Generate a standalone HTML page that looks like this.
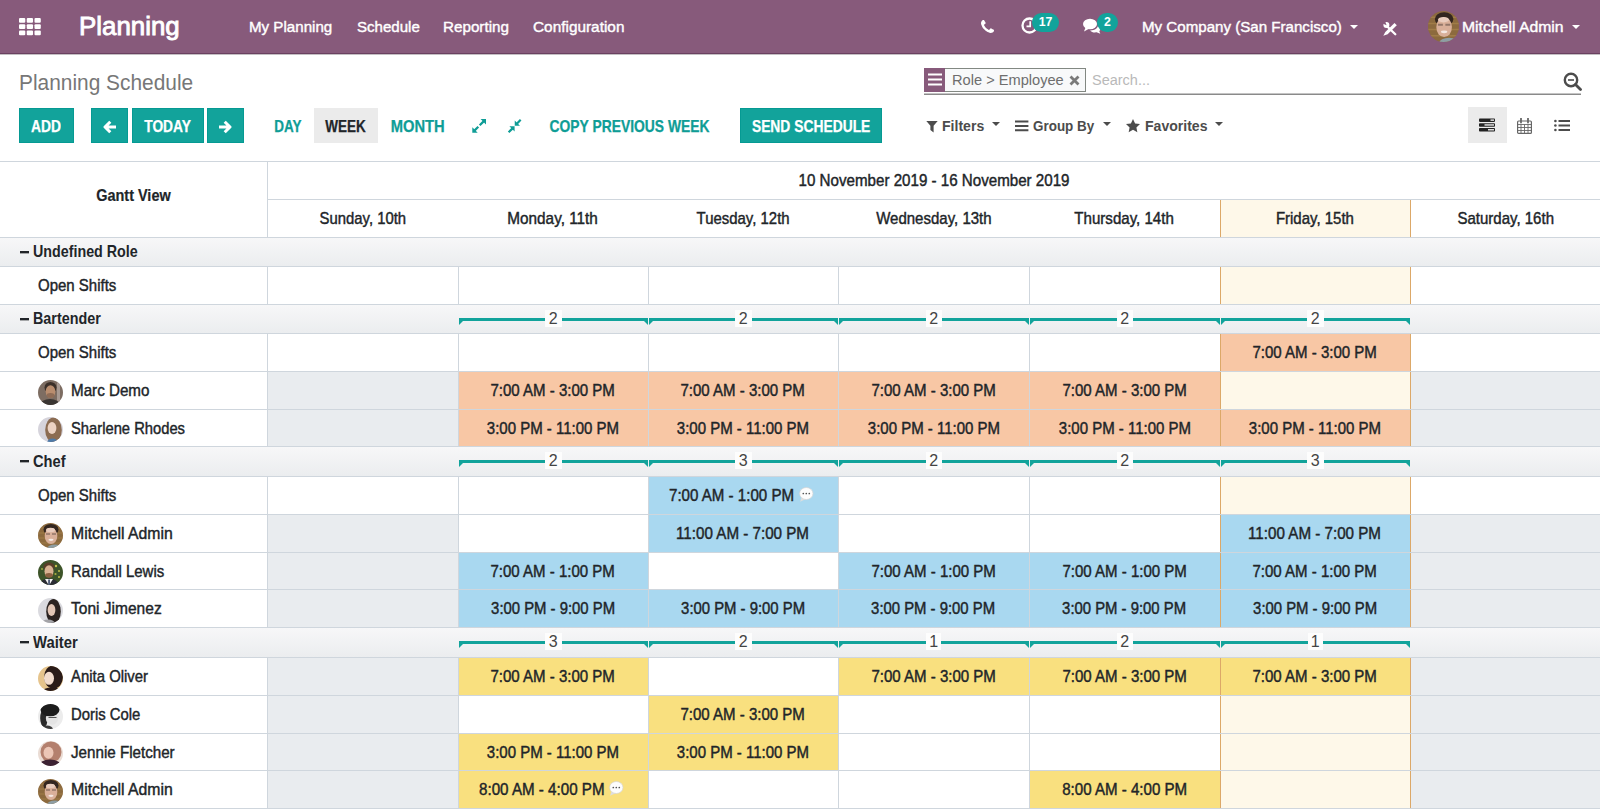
<!DOCTYPE html>
<html lang="en"><head><meta charset="utf-8"><title>Planning Schedule</title>
<style>
*{box-sizing:border-box;margin:0;padding:0}
html,body{width:1600px;height:809px;overflow:hidden;background:#fff}
body{font-family:"Liberation Sans", sans-serif;font-size:16.1px;color:#212529;position:relative}
.abs{position:absolute}
.sx{display:inline-block;white-space:nowrap}
.nav{position:absolute;left:0;top:0;width:1600px;height:54px;background:#875a7b;border-bottom:1px solid #6a4160}
.nav .t{position:absolute;color:#fff;white-space:nowrap;font-size:15.2px;line-height:53px;top:0;-webkit-text-stroke:0.4px #fff}
.brand{position:absolute;left:79px;top:0;line-height:53px;font-size:26.4px;color:#fff;-webkit-text-stroke:0.9px #fff;white-space:nowrap}
.badge{position:absolute;background:#12a39b;color:#fff;font-weight:bold;font-size:12.3px;line-height:19px;height:19px;border-radius:9.5px;text-align:center;top:13px}
.title{position:absolute;left:19px;top:68px;font-size:21.8px;line-height:30px;color:#777;white-space:nowrap}
.btn{position:absolute;top:108px;height:35px;line-height:37px;-webkit-text-stroke:0.25px;text-align:center;font-size:15.7px;font-weight:bold;white-space:nowrap;text-transform:uppercase}
.btn.p{background:#12a39b;color:#fff;box-shadow:inset 0 0 0 1px #059a93}
.btn.l{color:#0f9d96}
.btn.a{background:#ebebeb;color:#212529}
.flt{position:absolute;top:112px;line-height:28px;font-size:15.5px;font-weight:bold;color:#4c4c4c;white-space:nowrap}
.caret{position:absolute;width:0;height:0;border-left:4.5px solid transparent;border-right:4.5px solid transparent;border-top:4.8px solid #4c4c4c}
.hl{position:absolute;left:0;width:1600px;height:1px;background:#cfd6dd}
.vl{position:absolute;width:1px;background:#cfd6dd}
.grp{position:absolute;left:0;width:1600px;background:linear-gradient(#f7f7f8,#ebedef);border-top:1px solid #cfd6dd;border-bottom:1px solid #cfd6dd}
.grp .gl{position:absolute;left:19px;top:0;font-weight:bold;white-space:nowrap}
.rl{position:absolute;white-space:nowrap;-webkit-text-stroke:0.42px #212529}
.pill{position:absolute;text-align:center;white-space:nowrap;color:#212529;-webkit-text-stroke:0.42px #212529}
.hd{position:absolute;text-align:center;white-space:nowrap;color:#212529;-webkit-text-stroke:0.42px #212529}
.gray{position:absolute;background:#e9ecef}
.today{position:absolute;background:#fef8e9}
.cnt{position:absolute;height:2.6px;background:#12a39b}
.num{position:absolute;background:#fdfdfd;text-align:center;font-size:16px;color:#444;width:17px;height:17px;line-height:18px}
.tri{position:absolute;width:0;height:0}
.av{position:absolute;border-radius:50%;overflow:hidden}
</style></head>
<body>
<div class="nav">
<svg class="abs" style="left:18.900px;top:17.600px" width="23" height="18" viewBox="0 0 23 18"><rect x="0.00" y="0.00" width="6.300" height="4.750" rx="1.100" fill="#fff"/><rect x="7.75" y="0.00" width="6.300" height="4.750" rx="1.100" fill="#fff"/><rect x="15.50" y="0.00" width="6.300" height="4.750" rx="1.100" fill="#fff"/><rect x="0.00" y="6.25" width="6.300" height="4.750" rx="1.100" fill="#fff"/><rect x="7.75" y="6.25" width="6.300" height="4.750" rx="1.100" fill="#fff"/><rect x="15.50" y="6.25" width="6.300" height="4.750" rx="1.100" fill="#fff"/><rect x="0.00" y="12.50" width="6.300" height="4.750" rx="1.100" fill="#fff"/><rect x="7.75" y="12.50" width="6.300" height="4.750" rx="1.100" fill="#fff"/><rect x="15.50" y="12.50" width="6.300" height="4.750" rx="1.100" fill="#fff"/></svg>
<div class="brand"><span class="sx" style="transform:scaleX(0.9805);transform-origin:left center">Planning</span></div>
<div class="t" style="left:249px"><span class="sx" style="transform:scaleX(0.9959);transform-origin:left center">My Planning</span></div>
<div class="t" style="left:356.5px"><span class="sx" style="transform:scaleX(0.9924);transform-origin:left center">Schedule</span></div>
<div class="t" style="left:443px"><span class="sx" style="transform:scaleX(1.0014);transform-origin:left center">Reporting</span></div>
<div class="t" style="left:533px"><span class="sx" style="transform:scaleX(1.0120);transform-origin:left center">Configuration</span></div>
<svg class="abs" style="left:981px;top:20px" width="13" height="13" viewBox="0 0 1408 1408"><path fill="#fff" d="M1408 1112q0 27-10 70.500t-21 68.500q-21 50-122 106-94 51-186 51-27 0-53-3.500t-57.500-12.500-47-14.500-55.500-20.500-49-18q-98-35-175-83-127-79-264-216t-216-264q-48-77-83-175-3-9-18-49t-20.500-55.500-14.500-47-12.500-57.500-3.500-53q0-92 51-186 56-101 106-122 25-11 68.500-21t70.500-10q14 0 21 3 18 6 53 76 11 19 30 54t35 63.500 31 53.500q3 4 17.500 25t21.500 35.500 7 28.500q0 20-28.500 50t-62 55-62 53-28.500 46q0 9 5 22.500t8.500 20.500 14 24 11.500 19q76 137 174 235t235 174q2 1 19 11.500t24 14 20.500 8.500 22.500 5q18 0 46-28.500t53-62 55-62 50-28.500q14 0 28.500 7t35.500 21.500 25 17.500q25 15 53.500 31t63.500 35 54 30q70 35 76 53 3 7 3 21z"/></svg>
<svg class="abs" style="left:1020.500px;top:17px" width="17" height="17" viewBox="0 0 17 17"><circle cx="8.500" cy="8.500" r="7" fill="none" stroke="#fff" stroke-width="2.300"/><path d="M9.200 4.300v5H5.500" fill="none" stroke="#fff" stroke-width="1.700"/></svg>
<div class="badge" style="left:1032px;width:27px">17</div>
<svg class="abs" style="left:1083px;top:18px" width="18" height="16" viewBox="0 0 18 16"><ellipse cx="7" cy="6" rx="7" ry="5.2" fill="#fff"/><path d="M2.5 9.5 L1 13.5 L6 10.8z" fill="#fff"/><path d="M15.2 6.2c1.7 1 2.8 2.2 2.8 3.8 0 1.2-.7 2.3-1.800 3.100L17.300 15.800 13.600 14.300c-2.600.5-5.300-.3-6.600-1.900 4.700.2 8.400-2.300 8.200-6.200z" fill="#fff"/></svg>
<div class="badge" style="left:1097px;width:21px">2</div>
<div class="t" style="left:1142px"><span class="sx" style="transform:scaleX(0.9948);transform-origin:left center">My Company (San Francisco)</span></div>
<div class="caret" style="left:1350px;top:25px;border-top-color:#fff"></div>
<svg class="abs" style="left:1382px;top:20px" width="16" height="17" viewBox="0 0 16 17"><path d="M5.800 7L13.300 14.300" stroke="#fff" stroke-width="2.300" stroke-linecap="round"/><circle cx="4.400" cy="5" r="3" fill="#fff"/><path d="M4.600 5.200L0 3.200 2.600 0z" fill="#875a7b"/><path d="M1.300 15.700L3.300 12 12.500 2.900 14.800 5.200 5.600 14.300z" fill="#fff"/></svg>
<svg class="abs" style="left:1427.6px;top:11.0px" width="31" height="31" viewBox="0 0 25 25"><defs><clipPath id="c1"><circle cx="12.5" cy="12.5" r="12.5"/></clipPath></defs><g clip-path="url(#c1)"><rect width="25" height="25" fill="#8c6a3e"/><path d="M0 5h25M0 10h25M0 15h25M0 20h25" stroke="#a07c48" stroke-width="1.200"/><ellipse cx="13" cy="6.500" rx="7.500" ry="5.500" fill="#33261f"/><ellipse cx="13" cy="13" rx="6.300" ry="8" fill="#d9b09a"/><ellipse cx="12.500" cy="7" rx="4.500" ry="2.200" fill="#e9cdbd"/><path d="M8 11h4M14 11h4" stroke="#5a4840" stroke-width="1.600" opacity="0.550"/><ellipse cx="13" cy="16.800" rx="2.600" ry="1.100" fill="#f4e8e2"/><ellipse cx="17" cy="26" rx="8" ry="4.500" fill="#8e9ea4"/></g></svg>
<div class="t" style="left:1462.4px"><span class="sx" style="transform:scaleX(1.0368);transform-origin:left center">Mitchell Admin</span></div>
<div class="caret" style="left:1572px;top:25px;border-top-color:#fff"></div>
</div>
<div class="abs" style="left:0;top:54px;width:1600px;height:1px;background:#c4bfc3"></div>
<div class="title"><span class="sx" style="transform:scaleX(0.9584);transform-origin:left center">Planning Schedule</span></div>
<div class="abs" style="left:924px;top:68px;width:162px;height:24px;border:1px solid #828882;background:#f8f9fa"></div>
<div class="abs" style="left:924px;top:68px;width:21px;height:24px;background:#875a7b"></div>
<svg class="abs" style="left:928px;top:73px" width="14" height="13" viewBox="0 0 14 13"><path d="M0 1.500h14M0 6.500h14M0 11.500h14" stroke="#fff" stroke-width="2.200"/></svg>
<div class="abs" style="left:952px;top:68px;line-height:24px;font-size:15.5px;color:#6e6e6e;white-space:nowrap"><span class="sx" style="transform:scaleX(0.9433);transform-origin:left center">Role &gt; Employee</span></div>
<svg class="abs" style="left:1069px;top:75px" width="11" height="11" viewBox="0 0 11 11"><path d="M1.500 1.500l8 8M9.500 1.500l-8 8" stroke="#7a7a7a" stroke-width="2.800"/></svg>
<div class="abs" style="left:1091.5px;top:68px;line-height:24px;font-size:15.3px;color:#b9b9b9;white-space:nowrap"><span class="sx" style="transform:scaleX(0.9472);transform-origin:left center">Search...</span></div>
<div class="abs" style="left:924px;top:93px;width:657px;height:2px;background:linear-gradient(#c4c4c4 50%,#8a8a8a 50%)"></div>
<svg class="abs" style="left:1563px;top:72px" width="19" height="19" viewBox="0 0 19 19"><circle cx="8" cy="8" r="6.200" fill="none" stroke="#4c4c4c" stroke-width="2.400"/><path d="M12.500 12.500l5 5" stroke="#4c4c4c" stroke-width="2.800" stroke-linecap="round"/><path d="M5 8h6" stroke="#4c4c4c" stroke-width="1.600"/></svg>
<div class="btn p" style="left:19px;width:54.5px"><span class="sx" style="transform:scaleX(0.8820);transform-origin:center center">ADD</span></div>
<div class="btn p" style="left:91px;width:37px"></div>
<svg class="abs" style="left:103px;top:119.500px" width="14" height="14" viewBox="0 0 14 14"><path d="M13 7H3M7.300 1.700L2 7l5.300 5.300" fill="none" stroke="#fff" stroke-width="3" stroke-linejoin="round"/></svg>
<div class="btn p" style="left:131.5px;width:72px"><span class="sx" style="transform:scaleX(0.8783);transform-origin:center center">TODAY</span></div>
<div class="btn p" style="left:207px;width:36.5px"></div>
<svg class="abs" style="left:218px;top:119.500px" width="14" height="14" viewBox="0 0 14 14"><path d="M1 7h10M6.700 1.700L12 7l-5.300 5.300" fill="none" stroke="#fff" stroke-width="3" stroke-linejoin="round"/></svg>
<div class="btn l" style="left:262px;width:52px"><span class="sx" style="transform:scaleX(0.8594);transform-origin:center center">DAY</span></div>
<div class="btn a" style="left:313.5px;width:64.5px"><span class="sx" style="transform:scaleX(0.8599);transform-origin:center center">WEEK</span></div>
<div class="btn l" style="left:378px;width:79px"><span class="sx" style="transform:scaleX(0.9382);transform-origin:center center">MONTH</span></div>
<svg class="abs" style="left:471px;top:118px" width="16" height="16" viewBox="0 0 16 16"><path d="M13.400 2.600L8.700 7.300M2.900 13.100L7.300 8.700" stroke="#0f9d96" stroke-width="2.200"/><path d="M15 1v5.400L9.600 1zM1.300 14.700V9.300l5.400 5.400z" fill="#0f9d96"/></svg>
<svg class="abs" style="left:507px;top:118px" width="16" height="16" viewBox="0 0 16 16"><path d="M9.800 5.700L13.700 1.800M5.600 10.400L1.600 14.300" stroke="#0f9d96" stroke-width="2.200"/><path d="M7.750 7.750v-5.200l5.200 5.200zM7.600 8.300H2.400l5.200 5.200z" fill="#0f9d96"/></svg>
<div class="btn l" style="left:538.25px;width:182px"><span class="sx" style="transform:scaleX(0.8831);transform-origin:center center">COPY PREVIOUS WEEK</span></div>
<div class="btn p" style="left:740px;width:142px"><span class="sx" style="transform:scaleX(0.8821);transform-origin:center center">SEND SCHEDULE</span></div>
<svg class="abs" style="left:925.500px;top:120.500px" width="12" height="12" viewBox="0 0 12 12"><path d="M0.300 0h11.400L7.600 4.800v6.800L4.400 9V4.800z" fill="#4c4c4c"/></svg>
<div class="flt" style="left:942px"><span class="sx" style="transform:scaleX(0.9083);transform-origin:left center">Filters</span></div>
<div class="caret" style="left:991.9px;top:121.9px"></div>
<svg class="abs" style="left:1015.400px;top:120px" width="14" height="12" viewBox="0 0 14 12"><path d="M0 1.500h13.400M0 5.900h13.400M0 10.200h13.400" stroke="#4c4c4c" stroke-width="2"/></svg>
<div class="flt" style="left:1033.25px"><span class="sx" style="transform:scaleX(0.8674);transform-origin:left center">Group By</span></div>
<div class="caret" style="left:1103px;top:121.9px"></div>
<svg class="abs" style="left:1126.200px;top:118.600px" width="14" height="14" viewBox="0 0 14 14"><path d="M7 0l2.100 4.500 4.900.6-3.600 3.300.95 4.800L7 10.800l-4.350 2.400.95-4.800L0 5.100l4.900-.6z" fill="#4c4c4c"/></svg>
<div class="flt" style="left:1145px"><span class="sx" style="transform:scaleX(0.9069);transform-origin:left center">Favorites</span></div>
<div class="caret" style="left:1215.4px;top:121.9px"></div>
<div class="abs" style="left:1468px;top:107px;width:39px;height:36px;background:#ebebeb"></div>
<svg class="abs" style="left:1479px;top:118px" width="16" height="14" viewBox="0 0 16 14"><rect x="0" y="0.500" width="16" height="3.400" rx="0.800" fill="#222"/><rect x="0" y="5.300" width="16" height="3.400" rx="0.800" fill="#222"/><rect x="0" y="10.100" width="16" height="3.400" rx="0.800" fill="#222"/><rect x="11.500" y="1.400" width="3.500" height="1.500" fill="#ddd"/><rect x="5.500" y="6.200" width="9.500" height="1.500" fill="#ddd"/><rect x="9" y="11" width="6" height="1.500" fill="#ddd"/></svg>
<svg class="abs" style="left:1517px;top:118px" width="15" height="16" viewBox="0 0 15 16"><rect x="0.600" y="3" width="13.800" height="12.400" rx="1" fill="none" stroke="#666" stroke-width="1.200"/><path d="M0.600 6.500h13.800M0.600 9.500h13.800M0.600 12.500h13.800M4 6.500v9M7.500 6.500v9M11 6.500v9" stroke="#666" stroke-width="0.900"/><path d="M4 0.500v4M11 0.500v4" stroke="#666" stroke-width="1.800" stroke-linecap="round"/></svg>
<svg class="abs" style="left:1554px;top:119px" width="16" height="13" viewBox="0 0 16 13"><path d="M4.500 2h11.500M4.500 6.500h11.500M4.500 11h11.500" stroke="#4c4c4c" stroke-width="1.800"/><circle cx="1.400" cy="2" r="1.300" fill="#4c4c4c"/><circle cx="1.400" cy="6.500" r="1.300" fill="#4c4c4c"/><circle cx="1.400" cy="11" r="1.300" fill="#4c4c4c"/></svg>
<div class="hl" style="top:161px"></div>
<div class="hl" style="top:199px;left:267px;width:1333px"></div>
<div class="vl" style="left:267px;top:162px;height:75px"></div>
<div class="abs" style="left:0;top:182px;width:266px;text-align:center;font-weight:bold;line-height:27px;-webkit-text-stroke:0.2px"><span class="sx" style="transform:scaleX(0.8986);transform-origin:center center">Gantt View</span></div>
<div class="hd" style="left:268px;top:162px;width:1332px;line-height:36px"><span class="sx" style="transform:scaleX(0.9404);transform-origin:center center">10 November 2019 - 16 November 2019</span></div>
<div class="today" style="left:1220px;top:200px;width:190px;height:37px"></div>
<div class="hd" style="left:267px;top:200px;width:191px;line-height:36px"><span class="sx" style="transform:scaleX(0.9232);transform-origin:center center">Sunday, 10th</span></div>
<div class="hd" style="left:458px;top:200px;width:190px;line-height:36px"><span class="sx" style="transform:scaleX(0.9509);transform-origin:center center">Monday, 11th</span></div>
<div class="hd" style="left:648px;top:200px;width:190px;line-height:36px"><span class="sx" style="transform:scaleX(0.9278);transform-origin:center center">Tuesday, 12th</span></div>
<div class="hd" style="left:838px;top:200px;width:191px;line-height:36px"><span class="sx" style="transform:scaleX(0.9328);transform-origin:center center">Wednesday, 13th</span></div>
<div class="hd" style="left:1029px;top:200px;width:191px;line-height:36px"><span class="sx" style="transform:scaleX(0.9369);transform-origin:center center">Thursday, 14th</span></div>
<div class="hd" style="left:1220px;top:200px;width:190px;line-height:36px"><span class="sx" style="transform:scaleX(0.9306);transform-origin:center center">Friday, 15th</span></div>
<div class="hd" style="left:1410px;top:200px;width:191px;line-height:36px"><span class="sx" style="transform:scaleX(0.9321);transform-origin:center center">Saturday, 16th</span></div>
<div class="grp" style="top:237px;height:30px"><div class="abs" style="left:19.500px;top:13px;width:9.500px;height:3px;background:linear-gradient(#212529 0,#212529 2px,#a4a6a8 2px,#a4a6a8 3px)"></div><div class="gl" style="left:33px;line-height:27px"><span class="sx" style="transform:scaleX(0.8876);transform-origin:left center">Undefined Role</span></div></div>
<div class="hl" style="top:304px"></div>
<div class="today" style="left:1220px;top:267px;width:190px;height:37px"></div>
<div class="rl" style="left:38.3px;top:267px;line-height:37px"><span class="sx" style="transform:scaleX(0.9320);transform-origin:left center">Open Shifts</span></div>
<div class="grp" style="top:304px;height:30px"><div class="abs" style="left:19.500px;top:13px;width:9.500px;height:3px;background:linear-gradient(#212529 0,#212529 2px,#a4a6a8 2px,#a4a6a8 3px)"></div><div class="gl" style="left:33px;line-height:27px"><span class="sx" style="transform:scaleX(0.8915);transform-origin:left center">Bartender</span></div></div>
<div class="cnt" style="left:459px;top:318px;width:189px"></div>
<div class="tri" style="left:459px;top:320px;border-top:5px solid #12a39b;border-right:5px solid transparent"></div>
<div class="tri" style="left:643px;top:320px;border-top:5px solid #12a39b;border-left:5px solid transparent"></div>
<div class="num" style="left:545.0px;top:310.0px;width:16.5px">2</div>
<div class="cnt" style="left:649px;top:318px;width:189px"></div>
<div class="tri" style="left:649px;top:320px;border-top:5px solid #12a39b;border-right:5px solid transparent"></div>
<div class="tri" style="left:833px;top:320px;border-top:5px solid #12a39b;border-left:5px solid transparent"></div>
<div class="num" style="left:735.0px;top:310.0px;width:16.5px">2</div>
<div class="cnt" style="left:839px;top:318px;width:190px"></div>
<div class="tri" style="left:839px;top:320px;border-top:5px solid #12a39b;border-right:5px solid transparent"></div>
<div class="tri" style="left:1024px;top:320px;border-top:5px solid #12a39b;border-left:5px solid transparent"></div>
<div class="num" style="left:925.5px;top:310.0px;width:16.5px">2</div>
<div class="cnt" style="left:1030px;top:318px;width:190px"></div>
<div class="tri" style="left:1030px;top:320px;border-top:5px solid #12a39b;border-right:5px solid transparent"></div>
<div class="tri" style="left:1215px;top:320px;border-top:5px solid #12a39b;border-left:5px solid transparent"></div>
<div class="num" style="left:1116.5px;top:310.0px;width:16.5px">2</div>
<div class="cnt" style="left:1221px;top:318px;width:189px"></div>
<div class="tri" style="left:1221px;top:320px;border-top:5px solid #12a39b;border-right:5px solid transparent"></div>
<div class="tri" style="left:1405px;top:320px;border-top:5px solid #12a39b;border-left:5px solid transparent"></div>
<div class="num" style="left:1307.0px;top:310.0px;width:16.5px">2</div>
<div class="hl" style="top:371px"></div>
<div class="today" style="left:1220px;top:334px;width:190px;height:37px"></div>
<div class="rl" style="left:38.3px;top:334px;line-height:37px"><span class="sx" style="transform:scaleX(0.9320);transform-origin:left center">Open Shifts</span></div>
<div class="pill" style="left:1220px;top:334px;width:190px;height:37px;line-height:37px;background:#f8c7a5"><span class="sx" style="transform:scaleX(0.9337);transform-origin:center center">7:00 AM - 3:00 PM</span></div>
<div class="hl" style="top:409px"></div>
<div class="today" style="left:1220px;top:372px;width:190px;height:37px"></div>
<div class="gray" style="left:268px;top:372px;width:190px;height:37px"></div>
<div class="gray" style="left:1411px;top:372px;width:189px;height:37px"></div>
<svg class="abs" style="left:38px;top:379.5px" width="25" height="25" viewBox="0 0 25 25"><defs><clipPath id="c2"><circle cx="12.5" cy="12.5" r="12.5"/></clipPath></defs><g clip-path="url(#c2)"><rect width="25" height="25" fill="#7d6d62"/><rect x="19" width="3" height="25" fill="#a89a92"/><ellipse cx="12.5" cy="7.5" rx="6" ry="5.5" fill="#3b3029"/><ellipse cx="12.5" cy="11.5" rx="4.8" ry="6.3" fill="#b98d6e"/><ellipse cx="12.5" cy="15.5" rx="3.8" ry="2.4" fill="#8f6c56"/><ellipse cx="12" cy="25" rx="10" ry="6" fill="#3a3532"/></g></svg>
<div class="rl" style="left:70.6px;top:372px;line-height:37px"><span class="sx" style="transform:scaleX(0.9435);transform-origin:left center">Marc Demo</span></div>
<div class="pill" style="left:458px;top:372px;width:190px;height:37px;line-height:37px;background:#f8c7a5"><span class="sx" style="transform:scaleX(0.9337);transform-origin:center center">7:00 AM - 3:00 PM</span></div>
<div class="pill" style="left:648px;top:372px;width:190px;height:37px;line-height:37px;background:#f8c7a5"><span class="sx" style="transform:scaleX(0.9337);transform-origin:center center">7:00 AM - 3:00 PM</span></div>
<div class="pill" style="left:838px;top:372px;width:191px;height:37px;line-height:37px;background:#f8c7a5"><span class="sx" style="transform:scaleX(0.9337);transform-origin:center center">7:00 AM - 3:00 PM</span></div>
<div class="pill" style="left:1029px;top:372px;width:191px;height:37px;line-height:37px;background:#f8c7a5"><span class="sx" style="transform:scaleX(0.9337);transform-origin:center center">7:00 AM - 3:00 PM</span></div>
<div class="hl" style="top:446px"></div>
<div class="today" style="left:1220px;top:410px;width:190px;height:36px"></div>
<div class="gray" style="left:268px;top:410px;width:190px;height:36px"></div>
<div class="gray" style="left:1411px;top:410px;width:189px;height:36px"></div>
<svg class="abs" style="left:38px;top:417.0px" width="25" height="25" viewBox="0 0 25 25"><defs><clipPath id="c3"><circle cx="12.5" cy="12.5" r="12.5"/></clipPath></defs><g clip-path="url(#c3)"><rect width="25" height="25" fill="#d6d4dc"/><ellipse cx="15.5" cy="13" rx="8.3" ry="12.5" fill="#8c6c52"/><ellipse cx="14" cy="11" rx="4.4" ry="6" fill="#ecd2c3"/><ellipse cx="14.5" cy="26" rx="5.5" ry="4.5" fill="#4e7aa8"/></g></svg>
<div class="rl" style="left:70.6px;top:410px;line-height:36px"><span class="sx" style="transform:scaleX(0.9163);transform-origin:left center">Sharlene Rhodes</span></div>
<div class="pill" style="left:458px;top:410px;width:190px;height:36px;line-height:36px;background:#f8c7a5"><span class="sx" style="transform:scaleX(0.9314);transform-origin:center center">3:00 PM - 11:00 PM</span></div>
<div class="pill" style="left:648px;top:410px;width:190px;height:36px;line-height:36px;background:#f8c7a5"><span class="sx" style="transform:scaleX(0.9314);transform-origin:center center">3:00 PM - 11:00 PM</span></div>
<div class="pill" style="left:838px;top:410px;width:191px;height:36px;line-height:36px;background:#f8c7a5"><span class="sx" style="transform:scaleX(0.9314);transform-origin:center center">3:00 PM - 11:00 PM</span></div>
<div class="pill" style="left:1029px;top:410px;width:191px;height:36px;line-height:36px;background:#f8c7a5"><span class="sx" style="transform:scaleX(0.9314);transform-origin:center center">3:00 PM - 11:00 PM</span></div>
<div class="pill" style="left:1220px;top:410px;width:190px;height:36px;line-height:36px;background:#f8c7a5"><span class="sx" style="transform:scaleX(0.9314);transform-origin:center center">3:00 PM - 11:00 PM</span></div>
<div class="grp" style="top:446px;height:31px"><div class="abs" style="left:19.500px;top:13px;width:9.500px;height:3px;background:linear-gradient(#212529 0,#212529 2px,#a4a6a8 2px,#a4a6a8 3px)"></div><div class="gl" style="left:33px;line-height:28px"><span class="sx" style="transform:scaleX(0.9112);transform-origin:left center">Chef</span></div></div>
<div class="cnt" style="left:459px;top:460px;width:189px"></div>
<div class="tri" style="left:459px;top:462px;border-top:5px solid #12a39b;border-right:5px solid transparent"></div>
<div class="tri" style="left:643px;top:462px;border-top:5px solid #12a39b;border-left:5px solid transparent"></div>
<div class="num" style="left:545.0px;top:452.0px;width:16.5px">2</div>
<div class="cnt" style="left:649px;top:460px;width:189px"></div>
<div class="tri" style="left:649px;top:462px;border-top:5px solid #12a39b;border-right:5px solid transparent"></div>
<div class="tri" style="left:833px;top:462px;border-top:5px solid #12a39b;border-left:5px solid transparent"></div>
<div class="num" style="left:735.0px;top:452.0px;width:16.5px">3</div>
<div class="cnt" style="left:839px;top:460px;width:190px"></div>
<div class="tri" style="left:839px;top:462px;border-top:5px solid #12a39b;border-right:5px solid transparent"></div>
<div class="tri" style="left:1024px;top:462px;border-top:5px solid #12a39b;border-left:5px solid transparent"></div>
<div class="num" style="left:925.5px;top:452.0px;width:16.5px">2</div>
<div class="cnt" style="left:1030px;top:460px;width:190px"></div>
<div class="tri" style="left:1030px;top:462px;border-top:5px solid #12a39b;border-right:5px solid transparent"></div>
<div class="tri" style="left:1215px;top:462px;border-top:5px solid #12a39b;border-left:5px solid transparent"></div>
<div class="num" style="left:1116.5px;top:452.0px;width:16.5px">2</div>
<div class="cnt" style="left:1221px;top:460px;width:189px"></div>
<div class="tri" style="left:1221px;top:462px;border-top:5px solid #12a39b;border-right:5px solid transparent"></div>
<div class="tri" style="left:1405px;top:462px;border-top:5px solid #12a39b;border-left:5px solid transparent"></div>
<div class="num" style="left:1307.0px;top:452.0px;width:16.5px">3</div>
<div class="hl" style="top:514px"></div>
<div class="today" style="left:1220px;top:477px;width:190px;height:37px"></div>
<div class="rl" style="left:38.3px;top:477px;line-height:37px"><span class="sx" style="transform:scaleX(0.9320);transform-origin:left center">Open Shifts</span></div>
<div class="pill" style="left:648px;top:477px;width:190px;height:37px;line-height:37px;background:#a9d8f0"><span class="abs" style="left:21.3px;top:0"><span class="sx" style="transform:scaleX(0.9382);transform-origin:left center">7:00 AM - 1:00 PM</span></span><svg class="abs" style="left:151px;top:10px" width="15" height="15" viewBox="0 0 15 15"><path d="M2.600 10.300L1.100 14.800 6.500 12.300z" fill="#dedede"/><ellipse cx="7.300" cy="6.500" rx="6.700" ry="6" fill="#fdfdfd" stroke="#d4d4d4" stroke-width="0.700"/><circle cx="4.300" cy="6.500" r="0.850" fill="#555"/><circle cx="7.300" cy="6.500" r="0.850" fill="#555"/><circle cx="10.300" cy="6.500" r="0.850" fill="#555"/></svg></div>
<div class="hl" style="top:552px"></div>
<div class="today" style="left:1220px;top:515px;width:190px;height:37px"></div>
<div class="gray" style="left:268px;top:515px;width:190px;height:37px"></div>
<div class="gray" style="left:1411px;top:515px;width:189px;height:37px"></div>
<svg class="abs" style="left:38px;top:522.5px" width="25" height="25" viewBox="0 0 25 25"><defs><clipPath id="c4"><circle cx="12.5" cy="12.5" r="12.5"/></clipPath></defs><g clip-path="url(#c4)"><rect width="25" height="25" fill="#8c6a3e"/><path d="M0 5h25M0 10h25M0 15h25M0 20h25" stroke="#a07c48" stroke-width="1.200"/><ellipse cx="13" cy="6.500" rx="7.500" ry="5.500" fill="#33261f"/><ellipse cx="13" cy="13" rx="6.300" ry="8" fill="#d9b09a"/><ellipse cx="12.500" cy="7" rx="4.500" ry="2.200" fill="#e9cdbd"/><path d="M8 11h4M14 11h4" stroke="#5a4840" stroke-width="1.600" opacity="0.550"/><ellipse cx="13" cy="16.800" rx="2.600" ry="1.100" fill="#f4e8e2"/><ellipse cx="17" cy="26" rx="8" ry="4.500" fill="#8e9ea4"/></g></svg>
<div class="rl" style="left:70.6px;top:515px;line-height:37px"><span class="sx" style="transform:scaleX(0.9808);transform-origin:left center">Mitchell Admin</span></div>
<div class="pill" style="left:648px;top:515px;width:190px;height:37px;line-height:37px;background:#a9d8f0"><span class="sx" style="transform:scaleX(0.9426);transform-origin:center center">11:00 AM - 7:00 PM</span></div>
<div class="pill" style="left:1220px;top:515px;width:190px;height:37px;line-height:37px;background:#a9d8f0"><span class="sx" style="transform:scaleX(0.9426);transform-origin:center center">11:00 AM - 7:00 PM</span></div>
<div class="hl" style="top:589px"></div>
<div class="today" style="left:1220px;top:553px;width:190px;height:36px"></div>
<div class="gray" style="left:268px;top:553px;width:190px;height:36px"></div>
<div class="gray" style="left:1411px;top:553px;width:189px;height:36px"></div>
<svg class="abs" style="left:38px;top:560.0px" width="25" height="25" viewBox="0 0 25 25"><defs><clipPath id="c5"><circle cx="12.5" cy="12.5" r="12.5"/></clipPath></defs><g clip-path="url(#c5)"><rect width="25" height="25" fill="#3d5429"/><circle cx="18" cy="6" r="1.200" fill="#c2c04c"/><circle cx="21" cy="11" r="1" fill="#c2c04c"/><circle cx="17.5" cy="14" r="1.100" fill="#a8b040"/><circle cx="21" cy="17" r="1" fill="#c2c04c"/><circle cx="4" cy="9" r="0.900" fill="#a8b040"/><ellipse cx="11" cy="26" rx="10" ry="7.500" fill="#2a2c34"/><path d="M7 19h8l-4 6.500z" fill="#f4f4f4"/><rect x="10.300" y="19.500" width="1.500" height="5.500" fill="#2a3a5a"/><ellipse cx="11" cy="6.800" rx="5.500" ry="4.200" fill="#5a3e28"/><ellipse cx="11" cy="11.300" rx="4.500" ry="6" fill="#d9b292"/><ellipse cx="11" cy="15.300" rx="3.800" ry="2.400" fill="#8a6040"/></g></svg>
<div class="rl" style="left:70.6px;top:553px;line-height:36px"><span class="sx" style="transform:scaleX(0.9308);transform-origin:left center">Randall Lewis</span></div>
<div class="pill" style="left:458px;top:553px;width:190px;height:36px;line-height:36px;background:#a9d8f0"><span class="sx" style="transform:scaleX(0.9337);transform-origin:center center">7:00 AM - 1:00 PM</span></div>
<div class="pill" style="left:838px;top:553px;width:191px;height:36px;line-height:36px;background:#a9d8f0"><span class="sx" style="transform:scaleX(0.9337);transform-origin:center center">7:00 AM - 1:00 PM</span></div>
<div class="pill" style="left:1029px;top:553px;width:191px;height:36px;line-height:36px;background:#a9d8f0"><span class="sx" style="transform:scaleX(0.9337);transform-origin:center center">7:00 AM - 1:00 PM</span></div>
<div class="pill" style="left:1220px;top:553px;width:190px;height:36px;line-height:36px;background:#a9d8f0"><span class="sx" style="transform:scaleX(0.9337);transform-origin:center center">7:00 AM - 1:00 PM</span></div>
<div class="hl" style="top:627px"></div>
<div class="today" style="left:1220px;top:590px;width:190px;height:37px"></div>
<div class="gray" style="left:268px;top:590px;width:190px;height:37px"></div>
<div class="gray" style="left:1411px;top:590px;width:189px;height:37px"></div>
<svg class="abs" style="left:38px;top:597.5px" width="25" height="25" viewBox="0 0 25 25"><defs><clipPath id="c6"><circle cx="12.5" cy="12.5" r="12.5"/></clipPath></defs><g clip-path="url(#c6)"><rect width="25" height="25" fill="#dadadf"/><ellipse cx="15.5" cy="13.500" rx="7.300" ry="12.500" fill="#2b2321"/><ellipse cx="13.5" cy="12" rx="3.900" ry="6" fill="#e2c6b6"/><ellipse cx="10" cy="26" rx="7" ry="4.500" fill="#a4a4a8"/></g></svg>
<div class="rl" style="left:70.6px;top:590px;line-height:37px"><span class="sx" style="transform:scaleX(0.9653);transform-origin:left center">Toni Jimenez</span></div>
<div class="pill" style="left:458px;top:590px;width:190px;height:37px;line-height:37px;background:#a9d8f0"><span class="sx" style="transform:scaleX(0.9238);transform-origin:center center">3:00 PM - 9:00 PM</span></div>
<div class="pill" style="left:648px;top:590px;width:190px;height:37px;line-height:37px;background:#a9d8f0"><span class="sx" style="transform:scaleX(0.9238);transform-origin:center center">3:00 PM - 9:00 PM</span></div>
<div class="pill" style="left:838px;top:590px;width:191px;height:37px;line-height:37px;background:#a9d8f0"><span class="sx" style="transform:scaleX(0.9238);transform-origin:center center">3:00 PM - 9:00 PM</span></div>
<div class="pill" style="left:1029px;top:590px;width:191px;height:37px;line-height:37px;background:#a9d8f0"><span class="sx" style="transform:scaleX(0.9238);transform-origin:center center">3:00 PM - 9:00 PM</span></div>
<div class="pill" style="left:1220px;top:590px;width:190px;height:37px;line-height:37px;background:#a9d8f0"><span class="sx" style="transform:scaleX(0.9238);transform-origin:center center">3:00 PM - 9:00 PM</span></div>
<div class="grp" style="top:627px;height:31px"><div class="abs" style="left:19.500px;top:13px;width:9.500px;height:3px;background:linear-gradient(#212529 0,#212529 2px,#a4a6a8 2px,#a4a6a8 3px)"></div><div class="gl" style="left:33px;line-height:28px"><span class="sx" style="transform:scaleX(0.9196);transform-origin:left center">Waiter</span></div></div>
<div class="cnt" style="left:459px;top:641px;width:189px"></div>
<div class="tri" style="left:459px;top:643px;border-top:5px solid #12a39b;border-right:5px solid transparent"></div>
<div class="tri" style="left:643px;top:643px;border-top:5px solid #12a39b;border-left:5px solid transparent"></div>
<div class="num" style="left:545.0px;top:633.0px;width:16.5px">3</div>
<div class="cnt" style="left:649px;top:641px;width:189px"></div>
<div class="tri" style="left:649px;top:643px;border-top:5px solid #12a39b;border-right:5px solid transparent"></div>
<div class="tri" style="left:833px;top:643px;border-top:5px solid #12a39b;border-left:5px solid transparent"></div>
<div class="num" style="left:735.0px;top:633.0px;width:16.5px">2</div>
<div class="cnt" style="left:839px;top:641px;width:190px"></div>
<div class="tri" style="left:839px;top:643px;border-top:5px solid #12a39b;border-right:5px solid transparent"></div>
<div class="tri" style="left:1024px;top:643px;border-top:5px solid #12a39b;border-left:5px solid transparent"></div>
<div class="num" style="left:926.2px;top:633.0px;width:15px">1</div>
<div class="cnt" style="left:1030px;top:641px;width:190px"></div>
<div class="tri" style="left:1030px;top:643px;border-top:5px solid #12a39b;border-right:5px solid transparent"></div>
<div class="tri" style="left:1215px;top:643px;border-top:5px solid #12a39b;border-left:5px solid transparent"></div>
<div class="num" style="left:1116.5px;top:633.0px;width:16.5px">2</div>
<div class="cnt" style="left:1221px;top:641px;width:189px"></div>
<div class="tri" style="left:1221px;top:643px;border-top:5px solid #12a39b;border-right:5px solid transparent"></div>
<div class="tri" style="left:1405px;top:643px;border-top:5px solid #12a39b;border-left:5px solid transparent"></div>
<div class="num" style="left:1307.7px;top:633.0px;width:15px">1</div>
<div class="hl" style="top:695px"></div>
<div class="today" style="left:1220px;top:658px;width:190px;height:37px"></div>
<div class="gray" style="left:268px;top:658px;width:190px;height:37px"></div>
<div class="gray" style="left:1411px;top:658px;width:189px;height:37px"></div>
<svg class="abs" style="left:38px;top:665.5px" width="25" height="25" viewBox="0 0 25 25"><defs><clipPath id="c7"><circle cx="12.5" cy="12.5" r="12.5"/></clipPath></defs><g clip-path="url(#c7)"><rect width="25" height="25" fill="#e6c48c"/><ellipse cx="15.500" cy="11" rx="9.500" ry="11.500" fill="#2a1b18"/><ellipse cx="11" cy="12.300" rx="5" ry="6.500" fill="#f2dccd"/><ellipse cx="14" cy="26" rx="10" ry="4.500" fill="#2a1b18"/></g></svg>
<div class="rl" style="left:70.6px;top:658px;line-height:37px"><span class="sx" style="transform:scaleX(0.9265);transform-origin:left center">Anita Oliver</span></div>
<div class="pill" style="left:458px;top:658px;width:190px;height:37px;line-height:37px;background:#f9e07f"><span class="sx" style="transform:scaleX(0.9337);transform-origin:center center">7:00 AM - 3:00 PM</span></div>
<div class="pill" style="left:838px;top:658px;width:191px;height:37px;line-height:37px;background:#f9e07f"><span class="sx" style="transform:scaleX(0.9337);transform-origin:center center">7:00 AM - 3:00 PM</span></div>
<div class="pill" style="left:1029px;top:658px;width:191px;height:37px;line-height:37px;background:#f9e07f"><span class="sx" style="transform:scaleX(0.9337);transform-origin:center center">7:00 AM - 3:00 PM</span></div>
<div class="pill" style="left:1220px;top:658px;width:190px;height:37px;line-height:37px;background:#f9e07f"><span class="sx" style="transform:scaleX(0.9337);transform-origin:center center">7:00 AM - 3:00 PM</span></div>
<div class="hl" style="top:733px"></div>
<div class="today" style="left:1220px;top:696px;width:190px;height:37px"></div>
<div class="gray" style="left:268px;top:696px;width:190px;height:37px"></div>
<div class="gray" style="left:1411px;top:696px;width:189px;height:37px"></div>
<svg class="abs" style="left:38px;top:703.5px" width="25" height="25" viewBox="0 0 25 25"><defs><clipPath id="c8"><circle cx="12.5" cy="12.5" r="12.5"/></clipPath></defs><g clip-path="url(#c8)"><rect width="25" height="25" fill="#ececec"/><ellipse cx="6" cy="14" rx="3.800" ry="9" fill="#2a2a2a"/><ellipse cx="14" cy="14" rx="6.200" ry="6.800" fill="#e4e4e4"/><ellipse cx="12" cy="5.800" rx="9.500" ry="6.500" fill="#1c1c1c"/><path d="M10.500 13.500h8" stroke="#555" stroke-width="1"/><ellipse cx="9" cy="25.500" rx="6" ry="4" fill="#3a3a3a"/></g></svg>
<div class="rl" style="left:70.6px;top:696px;line-height:37px"><span class="sx" style="transform:scaleX(0.9234);transform-origin:left center">Doris Cole</span></div>
<div class="pill" style="left:648px;top:696px;width:190px;height:37px;line-height:37px;background:#f9e07f"><span class="sx" style="transform:scaleX(0.9337);transform-origin:center center">7:00 AM - 3:00 PM</span></div>
<div class="hl" style="top:770px"></div>
<div class="today" style="left:1220px;top:734px;width:190px;height:36px"></div>
<div class="gray" style="left:268px;top:734px;width:190px;height:36px"></div>
<div class="gray" style="left:1411px;top:734px;width:189px;height:36px"></div>
<svg class="abs" style="left:38px;top:741.0px" width="25" height="25" viewBox="0 0 25 25"><defs><clipPath id="c9"><circle cx="12.5" cy="12.5" r="12.5"/></clipPath></defs><g clip-path="url(#c9)"><rect width="25" height="25" fill="#eadcd4"/><ellipse cx="13" cy="11" rx="10.500" ry="10.500" fill="#b4806e"/><ellipse cx="10.500" cy="11.800" rx="5" ry="6" fill="#ecc6b6"/><ellipse cx="12" cy="25.500" rx="11.500" ry="7" fill="#3c2232"/></g></svg>
<div class="rl" style="left:70.6px;top:734px;line-height:36px"><span class="sx" style="transform:scaleX(0.9421);transform-origin:left center">Jennie Fletcher</span></div>
<div class="pill" style="left:458px;top:734px;width:190px;height:36px;line-height:36px;background:#f9e07f"><span class="sx" style="transform:scaleX(0.9314);transform-origin:center center">3:00 PM - 11:00 PM</span></div>
<div class="pill" style="left:648px;top:734px;width:190px;height:36px;line-height:36px;background:#f9e07f"><span class="sx" style="transform:scaleX(0.9314);transform-origin:center center">3:00 PM - 11:00 PM</span></div>
<div class="hl" style="top:808px"></div>
<div class="today" style="left:1220px;top:771px;width:190px;height:37px"></div>
<div class="gray" style="left:268px;top:771px;width:190px;height:37px"></div>
<div class="gray" style="left:1411px;top:771px;width:189px;height:37px"></div>
<svg class="abs" style="left:38px;top:778.5px" width="25" height="25" viewBox="0 0 25 25"><defs><clipPath id="c10"><circle cx="12.5" cy="12.5" r="12.5"/></clipPath></defs><g clip-path="url(#c10)"><rect width="25" height="25" fill="#8c6a3e"/><path d="M0 5h25M0 10h25M0 15h25M0 20h25" stroke="#a07c48" stroke-width="1.200"/><ellipse cx="13" cy="6.500" rx="7.500" ry="5.500" fill="#33261f"/><ellipse cx="13" cy="13" rx="6.300" ry="8" fill="#d9b09a"/><ellipse cx="12.500" cy="7" rx="4.500" ry="2.200" fill="#e9cdbd"/><path d="M8 11h4M14 11h4" stroke="#5a4840" stroke-width="1.600" opacity="0.550"/><ellipse cx="13" cy="16.800" rx="2.600" ry="1.100" fill="#f4e8e2"/><ellipse cx="17" cy="26" rx="8" ry="4.500" fill="#8e9ea4"/></g></svg>
<div class="rl" style="left:70.6px;top:771px;line-height:37px"><span class="sx" style="transform:scaleX(0.9808);transform-origin:left center">Mitchell Admin</span></div>
<div class="pill" style="left:458px;top:771px;width:190px;height:37px;line-height:37px;background:#f9e07f"><span class="abs" style="left:21.3px;top:0"><span class="sx" style="transform:scaleX(0.9420);transform-origin:left center">8:00 AM - 4:00 PM</span></span><svg class="abs" style="left:151px;top:10px" width="15" height="15" viewBox="0 0 15 15"><path d="M2.600 10.300L1.100 14.800 6.500 12.300z" fill="#dedede"/><ellipse cx="7.300" cy="6.500" rx="6.700" ry="6" fill="#fdfdfd" stroke="#d4d4d4" stroke-width="0.700"/><circle cx="4.300" cy="6.500" r="0.850" fill="#555"/><circle cx="7.300" cy="6.500" r="0.850" fill="#555"/><circle cx="10.300" cy="6.500" r="0.850" fill="#555"/></svg></div>
<div class="pill" style="left:1029px;top:771px;width:191px;height:37px;line-height:37px;background:#f9e07f"><span class="sx" style="transform:scaleX(0.9375);transform-origin:center center">8:00 AM - 4:00 PM</span></div>
<div class="vl" style="left:267px;top:267px;height:37px;background:#cfd6dd"></div>
<div class="vl" style="left:458px;top:267px;height:37px;background:#cfd6dd"></div>
<div class="vl" style="left:648px;top:267px;height:37px;background:#cfd6dd"></div>
<div class="vl" style="left:838px;top:267px;height:37px;background:#cfd6dd"></div>
<div class="vl" style="left:1029px;top:267px;height:37px;background:#cfd6dd"></div>
<div class="vl" style="left:1220px;top:267px;height:37px;background:#dca868"></div>
<div class="vl" style="left:1410px;top:267px;height:37px;background:#dca868"></div>
<div class="vl" style="left:267px;top:334px;height:37px;background:#cfd6dd"></div>
<div class="vl" style="left:458px;top:334px;height:37px;background:#cfd6dd"></div>
<div class="vl" style="left:648px;top:334px;height:37px;background:#cfd6dd"></div>
<div class="vl" style="left:838px;top:334px;height:37px;background:#cfd6dd"></div>
<div class="vl" style="left:1029px;top:334px;height:37px;background:#cfd6dd"></div>
<div class="vl" style="left:1220px;top:334px;height:37px;background:#dca868"></div>
<div class="vl" style="left:1410px;top:334px;height:37px;background:#dca868"></div>
<div class="vl" style="left:267px;top:372px;height:37px;background:#cfd6dd"></div>
<div class="vl" style="left:458px;top:372px;height:37px;background:#cfd6dd"></div>
<div class="vl" style="left:648px;top:372px;height:37px;background:#cfd6dd"></div>
<div class="vl" style="left:838px;top:372px;height:37px;background:#cfd6dd"></div>
<div class="vl" style="left:1029px;top:372px;height:37px;background:#cfd6dd"></div>
<div class="vl" style="left:1220px;top:372px;height:37px;background:#dca868"></div>
<div class="vl" style="left:1410px;top:372px;height:37px;background:#dca868"></div>
<div class="vl" style="left:267px;top:410px;height:36px;background:#cfd6dd"></div>
<div class="vl" style="left:458px;top:410px;height:36px;background:#cfd6dd"></div>
<div class="vl" style="left:648px;top:410px;height:36px;background:#cfd6dd"></div>
<div class="vl" style="left:838px;top:410px;height:36px;background:#cfd6dd"></div>
<div class="vl" style="left:1029px;top:410px;height:36px;background:#cfd6dd"></div>
<div class="vl" style="left:1220px;top:410px;height:36px;background:#dca868"></div>
<div class="vl" style="left:1410px;top:410px;height:36px;background:#dca868"></div>
<div class="vl" style="left:267px;top:477px;height:37px;background:#cfd6dd"></div>
<div class="vl" style="left:458px;top:477px;height:37px;background:#cfd6dd"></div>
<div class="vl" style="left:648px;top:477px;height:37px;background:#cfd6dd"></div>
<div class="vl" style="left:838px;top:477px;height:37px;background:#cfd6dd"></div>
<div class="vl" style="left:1029px;top:477px;height:37px;background:#cfd6dd"></div>
<div class="vl" style="left:1220px;top:477px;height:37px;background:#dca868"></div>
<div class="vl" style="left:1410px;top:477px;height:37px;background:#dca868"></div>
<div class="vl" style="left:267px;top:515px;height:37px;background:#cfd6dd"></div>
<div class="vl" style="left:458px;top:515px;height:37px;background:#cfd6dd"></div>
<div class="vl" style="left:648px;top:515px;height:37px;background:#cfd6dd"></div>
<div class="vl" style="left:838px;top:515px;height:37px;background:#cfd6dd"></div>
<div class="vl" style="left:1029px;top:515px;height:37px;background:#cfd6dd"></div>
<div class="vl" style="left:1220px;top:515px;height:37px;background:#dca868"></div>
<div class="vl" style="left:1410px;top:515px;height:37px;background:#dca868"></div>
<div class="vl" style="left:267px;top:553px;height:36px;background:#cfd6dd"></div>
<div class="vl" style="left:458px;top:553px;height:36px;background:#cfd6dd"></div>
<div class="vl" style="left:648px;top:553px;height:36px;background:#cfd6dd"></div>
<div class="vl" style="left:838px;top:553px;height:36px;background:#cfd6dd"></div>
<div class="vl" style="left:1029px;top:553px;height:36px;background:#cfd6dd"></div>
<div class="vl" style="left:1220px;top:553px;height:36px;background:#dca868"></div>
<div class="vl" style="left:1410px;top:553px;height:36px;background:#dca868"></div>
<div class="vl" style="left:267px;top:590px;height:37px;background:#cfd6dd"></div>
<div class="vl" style="left:458px;top:590px;height:37px;background:#cfd6dd"></div>
<div class="vl" style="left:648px;top:590px;height:37px;background:#cfd6dd"></div>
<div class="vl" style="left:838px;top:590px;height:37px;background:#cfd6dd"></div>
<div class="vl" style="left:1029px;top:590px;height:37px;background:#cfd6dd"></div>
<div class="vl" style="left:1220px;top:590px;height:37px;background:#dca868"></div>
<div class="vl" style="left:1410px;top:590px;height:37px;background:#dca868"></div>
<div class="vl" style="left:267px;top:658px;height:37px;background:#cfd6dd"></div>
<div class="vl" style="left:458px;top:658px;height:37px;background:#cfd6dd"></div>
<div class="vl" style="left:648px;top:658px;height:37px;background:#cfd6dd"></div>
<div class="vl" style="left:838px;top:658px;height:37px;background:#cfd6dd"></div>
<div class="vl" style="left:1029px;top:658px;height:37px;background:#cfd6dd"></div>
<div class="vl" style="left:1220px;top:658px;height:37px;background:#dca868"></div>
<div class="vl" style="left:1410px;top:658px;height:37px;background:#dca868"></div>
<div class="vl" style="left:267px;top:696px;height:37px;background:#cfd6dd"></div>
<div class="vl" style="left:458px;top:696px;height:37px;background:#cfd6dd"></div>
<div class="vl" style="left:648px;top:696px;height:37px;background:#cfd6dd"></div>
<div class="vl" style="left:838px;top:696px;height:37px;background:#cfd6dd"></div>
<div class="vl" style="left:1029px;top:696px;height:37px;background:#cfd6dd"></div>
<div class="vl" style="left:1220px;top:696px;height:37px;background:#dca868"></div>
<div class="vl" style="left:1410px;top:696px;height:37px;background:#dca868"></div>
<div class="vl" style="left:267px;top:734px;height:36px;background:#cfd6dd"></div>
<div class="vl" style="left:458px;top:734px;height:36px;background:#cfd6dd"></div>
<div class="vl" style="left:648px;top:734px;height:36px;background:#cfd6dd"></div>
<div class="vl" style="left:838px;top:734px;height:36px;background:#cfd6dd"></div>
<div class="vl" style="left:1029px;top:734px;height:36px;background:#cfd6dd"></div>
<div class="vl" style="left:1220px;top:734px;height:36px;background:#dca868"></div>
<div class="vl" style="left:1410px;top:734px;height:36px;background:#dca868"></div>
<div class="vl" style="left:267px;top:771px;height:37px;background:#cfd6dd"></div>
<div class="vl" style="left:458px;top:771px;height:37px;background:#cfd6dd"></div>
<div class="vl" style="left:648px;top:771px;height:37px;background:#cfd6dd"></div>
<div class="vl" style="left:838px;top:771px;height:37px;background:#cfd6dd"></div>
<div class="vl" style="left:1029px;top:771px;height:37px;background:#cfd6dd"></div>
<div class="vl" style="left:1220px;top:771px;height:37px;background:#dca868"></div>
<div class="vl" style="left:1410px;top:771px;height:37px;background:#dca868"></div>
<div class="vl" style="left:1220px;top:200px;height:37px;background:#dca868"></div>
<div class="vl" style="left:1410px;top:200px;height:37px;background:#dca868"></div>
</body></html>
